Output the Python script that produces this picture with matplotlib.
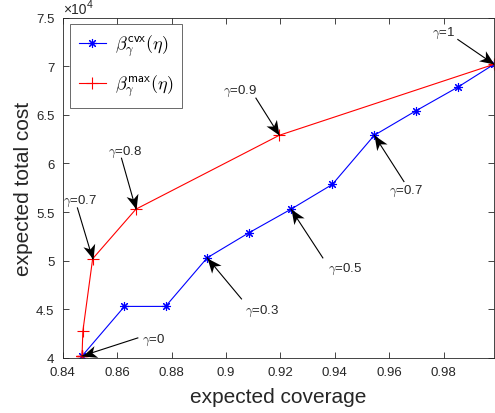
import numpy as np
import matplotlib.pyplot as plt
from matplotlib.ticker import FuncFormatter
from matplotlib.markers import MarkerStyle
from matplotlib.path import Path
from matplotlib.transforms import Affine2D

plt.rcParams['font.family'] = ['Liberation Sans', 'DejaVu Sans']
plt.rcParams['mathtext.fontset'] = 'cm'

gamma = [0.0, 0.1, 0.2, 0.3, 0.4, 0.5, 0.6, 0.7, 0.8, 0.9, 1.0]

# beta_cvx curve
coverage_cvx = [0.8471, 0.8627, 0.8778, 0.8931, 0.9083, 0.9239, 0.9391, 0.9545, 0.9697, 0.9852, 0.9985]
cost_cvx = [40200, 45300, 45300, 50300, 52850, 55300, 57850, 62900, 65400, 67850, 70200]

# beta_max curve
coverage_max = [0.8471, 0.8471, 0.8471, 0.8471, 0.8471, 0.8471, 0.8474, 0.8510, 0.8669, 0.9196, 0.9985]
cost_max = [40200, 40200, 40200, 40200, 40200, 40200, 42750, 50200, 55300, 62900, 70200]

# (label, series, gamma index, text position, arrow tail)
notes = [
    (r'$\gamma$=0', 'cvx', 0, (0.8733, 41880), (0.8676, 42060)),
    (r'$\gamma$=0.3', 'cvx', 3, (0.9132, 44940), (0.9057, 46070)),
    (r'$\gamma$=0.5', 'cvx', 5, (0.9437, 49160), (0.9356, 50290)),
    (r'$\gamma$=0.7', 'cvx', 7, (0.9663, 57210), (0.9654, 58140)),
    (r'$\gamma$=1', 'max', 10, (0.9800, 73440), (0.9852, 72750)),
    (r'$\gamma$=0.9', 'max', 9, (0.9051, 67500), (0.9110, 66720)),
    (r'$\gamma$=0.8', 'max', 8, (0.8628, 61200), (0.8616, 60540)),
    (r'$\gamma$=0.7', 'max', 7, (0.8464, 56180), (0.8454, 55430)),
]

dark = '#262626'

# notched arrow head, tip at the origin pointing along +x
head_path = Path([(0, 0), (-1, 0.42), (-0.72, 0), (-1, -0.42), (0, 0)],
                 [Path.MOVETO, Path.LINETO, Path.LINETO, Path.LINETO, Path.CLOSEPOLY])

fig = plt.figure(figsize=(4.95, 4.14), dpi=100)
ax = fig.add_axes([0.1267, 0.133, 0.8713, 0.822])

ax.plot(coverage_cvx, cost_cvx, color='blue', lw=0.8, marker=(8, 2, 0), ms=6.5, mew=0.8,
        label=r'$\beta_\gamma^{\mathsf{cvx}}(\eta)$')
ax.plot(coverage_max, cost_max, color='red', lw=0.8, marker='+', ms=8, mew=0.8,
        label=r'$\beta_\gamma^{\mathsf{max}}(\eta)$')

ax.set_xlim(0.84, 0.9985)
ax.set_ylim(40000, 75000)

series = {'cvx': (coverage_cvx, cost_cvx), 'max': (coverage_max, cost_max)}
for label, key, i, txt, tail in notes:
    xs, ys = series[key]
    head = (xs[i], ys[i])
    ax.plot([tail[0], head[0]], [tail[1], head[1]], color='black', lw=0.8, clip_on=False)
    p0 = ax.transData.transform(tail)
    p1 = ax.transData.transform(head)
    ang = np.degrees(np.arctan2(p1[1] - p0[1], p1[0] - p0[0]))
    mk = MarkerStyle(head_path, transform=Affine2D().rotate_deg(ang))
    ax.plot(*head, marker=mk, ms=21, color='black', mew=0, clip_on=False, zorder=5)
    ax.text(txt[0], txt[1], label, fontsize=9.5, color=dark, ha='center', va='center')

ax.set_xticks(np.arange(0.84, 0.981, 0.02))
ax.set_yticks(np.arange(40000, 75001, 5000))
ax.xaxis.set_major_formatter(FuncFormatter(lambda v, p: f'{v:.2f}'.rstrip('0')))
ax.yaxis.set_major_formatter(FuncFormatter(lambda v, p: f'{v / 1e4:g}'))
ax.tick_params(direction='in', length=4, width=0.6, top=True, right=True,
               labelsize=9.5, colors=dark, pad=6)
for s in ax.spines.values():
    s.set_linewidth(0.6)
    s.set_color(dark)

# exponent note above the y axis
ax.annotate('×10', xy=(0, 1), xycoords='axes fraction', xytext=(0, 1.5),
            textcoords='offset points', fontsize=10, color=dark, ha='left', va='bottom')
ax.annotate('4', xy=(0, 1), xycoords='axes fraction', xytext=(17.5, 6.5),
            textcoords='offset points', fontsize=7.5, color=dark, ha='left', va='bottom')

ax.set_xlabel('expected coverage', fontsize=15, color=dark, labelpad=6)
ax.set_ylabel('expected total cost', fontsize=15, color=dark, labelpad=2)

leg = ax.legend(loc='upper left', bbox_to_anchor=(0.016, 0.981), borderaxespad=0,
                fontsize=13, fancybox=False, edgecolor=dark, handlelength=1.5,
                handletextpad=0.5, borderpad=0.5, labelspacing=0.75)
leg.get_frame().set_linewidth(0.6)

fig.savefig('out.png', dpi=100)
